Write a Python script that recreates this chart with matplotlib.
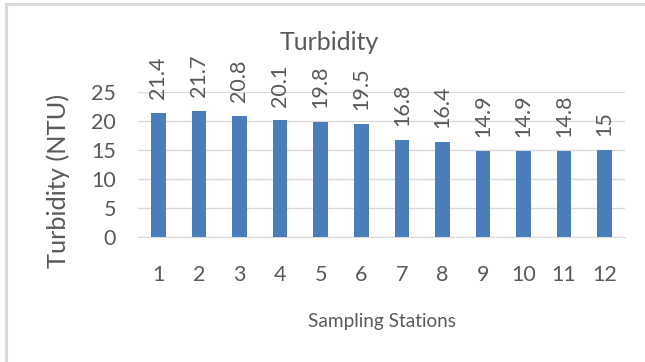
import matplotlib
matplotlib.use("Agg")
import matplotlib.pyplot as plt
from matplotlib.lines import Line2D

stations = [1, 2, 3, 4, 5, 6, 7, 8, 9, 10, 11, 12]
turbidity = [21.4, 21.7, 20.8, 20.1, 19.8, 19.5, 16.8, 16.4, 14.9, 14.9, 14.8, 15]
y_ticks = [0, 5, 10, 15, 20, 25]

plt.rcParams['font.family'] = ['Lato', 'DejaVu Sans']
text_gray = '#595959'

fig = plt.figure(figsize=(6.45, 3.62), dpi=100)
ax = fig.add_axes([0.214, 0.345, 0.755, 0.401])

ax.bar(stations, turbidity, width=0.36, color='#4A7EBB', zorder=3)

for x, v in zip(stations, turbidity):
    label = f'{v:g}'
    ax.annotate(label, (x, v), xytext=(0, 10), textcoords='offset points',
                rotation=90, ha='center', va='bottom', fontsize=15.5,
                color=text_gray)

ax.set_xlim(0.5, 12.5)
ax.set_ylim(0, 25)
ax.set_yticks(y_ticks)
ax.set_xticks(stations)
ax.set_xticklabels([str(s) for s in stations])
ax.grid(axis='y', color='#D9D9D9', linewidth=1, zorder=0)
ax.tick_params(axis='x', length=0, pad=20, labelsize=15.5, colors=text_gray)
ax.tick_params(axis='y', length=0, pad=16, labelsize=15.5, colors=text_gray)
for side in ['left', 'right', 'top']:
    ax.spines[side].set_visible(False)
ax.spines['bottom'].set_color('#D9D9D9')

ax.set_ylabel('Turbidity (NTU)', fontsize=18.3, color=text_gray)
ax.yaxis.set_label_coords(-0.164, 0.39)
ax.yaxis.label.set_va('center')
ax.set_xlabel('Sampling Stations', fontsize=13.7, color=text_gray, labelpad=20)
fig.text(329 / 645, 1 - 43 / 362, 'Turbidity', ha='center', va='center',
         fontsize=18, color=text_gray)

# light frame on the left and top edges
fig.add_artist(Line2D([6 / 645, 6 / 645], [0, 1 - 4 / 362],
                      transform=fig.transFigure, color='#DADADA', linewidth=2.2))
fig.add_artist(Line2D([6 / 645, 1], [1 - 4 / 362, 1 - 4 / 362],
                      transform=fig.transFigure, color='#DADADA', linewidth=2.2))

fig.savefig('out.png', dpi=100)
